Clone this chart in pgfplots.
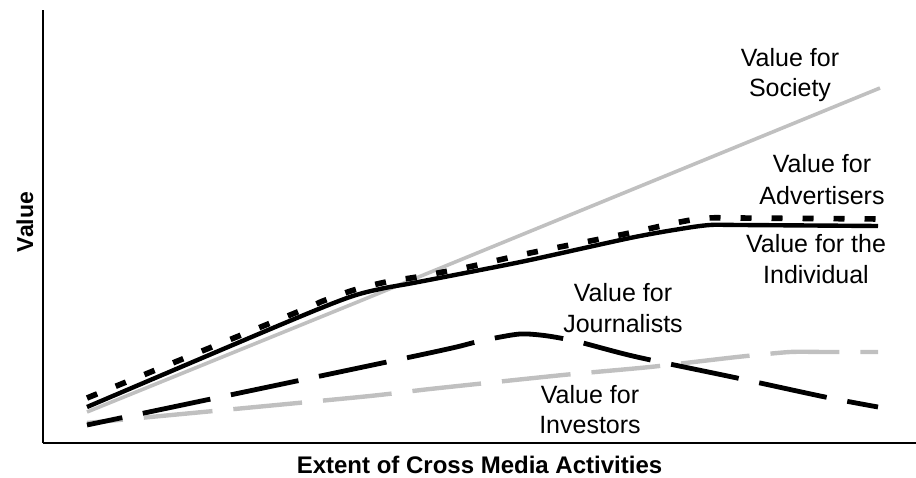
\documentclass[border=0pt]{standalone}
\usepackage{fontspec}
\setmainfont{Liberation Sans}
\usepackage{pgfplots}
\pgfplotsset{compat=1.18}
\definecolor{lgray}{RGB}{192,192,192}

\begin{document}
\begin{tikzpicture}
\begin{axis}[
  scale only axis, width=436.5pt, height=216.5pt,
  xmin=43, xmax=916, ymin=0, ymax=433,
  axis x line*=bottom, axis y line*=left,
  ticks=none, clip=false,
  axis line style={line width=0.6pt, black},
]
% Value for Society
\addplot[lgray, line width=1.8pt, no marks] coordinates {(87,31) (360,142) (880,355)};
% Value for Investors
\addplot[lgray, line width=2.2pt, no marks, smooth, tension=0.4, dash pattern=on 34.5pt off 10.5pt, dash phase=16.5pt] coordinates {
(87,20) (360,46) (430,54) (563,68) (650,76) (737,86) (790,91) (825,91) (878,91)};
% Value for Journalists
\addplot[black, line width=2.4pt, no marks, smooth, tension=0.5, dash pattern=on 34.5pt off 10.5pt, dash phase=16.5pt] coordinates {
(87,18) (420,88) (472,100) (495,105) (520,109) (540,108) (560,105) (583,100) (637,86) (737,65) (825,46) (878,36)};
% Value for the Individual
\addplot[black, line width=2.2pt, no marks, smooth, tension=0.5] coordinates {
(87,36) (280,118) (347,145) (380,154) (413,160) (470,171) (530,183) (630,205) (680,214) (710,218) (740,218) (878,217)};
% Value for Advertisers
\addplot[black, line width=2.8pt, no marks, smooth, tension=0.5, dash pattern=on 5.5pt off 10pt] coordinates {
(87,45) (295,130) (323,142) (354,153) (386,161) (417,166) (443,171) (473,177) (530,190) (620,208) (680,221) (707,225) (737,225) (880,224)};

\begin{scope}[every node/.style={anchor=base, inner sep=0pt, font=\fontsize{12.5}{14}\selectfont}]
\node at (axis cs:790,376) {Value for};
\node at (axis cs:790,346) {Society};
\node at (axis cs:822,270) {Value for};
\node at (axis cs:822,238) {Advertisers};
\node at (axis cs:816,191) {Value for the};
\node at (axis cs:816,160) {Individual};
\node at (axis cs:623,141) {Value for};
\node at (axis cs:623,111) {Journalists};
\node at (axis cs:590,40) {Value for};
\node at (axis cs:590,10) {Investors};
\end{scope}
\node[anchor=base, inner sep=0pt, font=\fontsize{12}{14}\selectfont\bfseries] at (axis cs:479.5,-30) {Extent of Cross Media Activities};
\node[anchor=base, inner sep=0pt, rotate=90, font=\fontsize{11.5}{14}\selectfont\bfseries] at (axis cs:33,221) {Value};
\coordinate (bbl) at (axis cs:0,-34);
\coordinate (btr) at (axis cs:916,443);
\end{axis}
\pgfresetboundingbox
\path (bbl) rectangle (btr);
\end{tikzpicture}
\end{document}
